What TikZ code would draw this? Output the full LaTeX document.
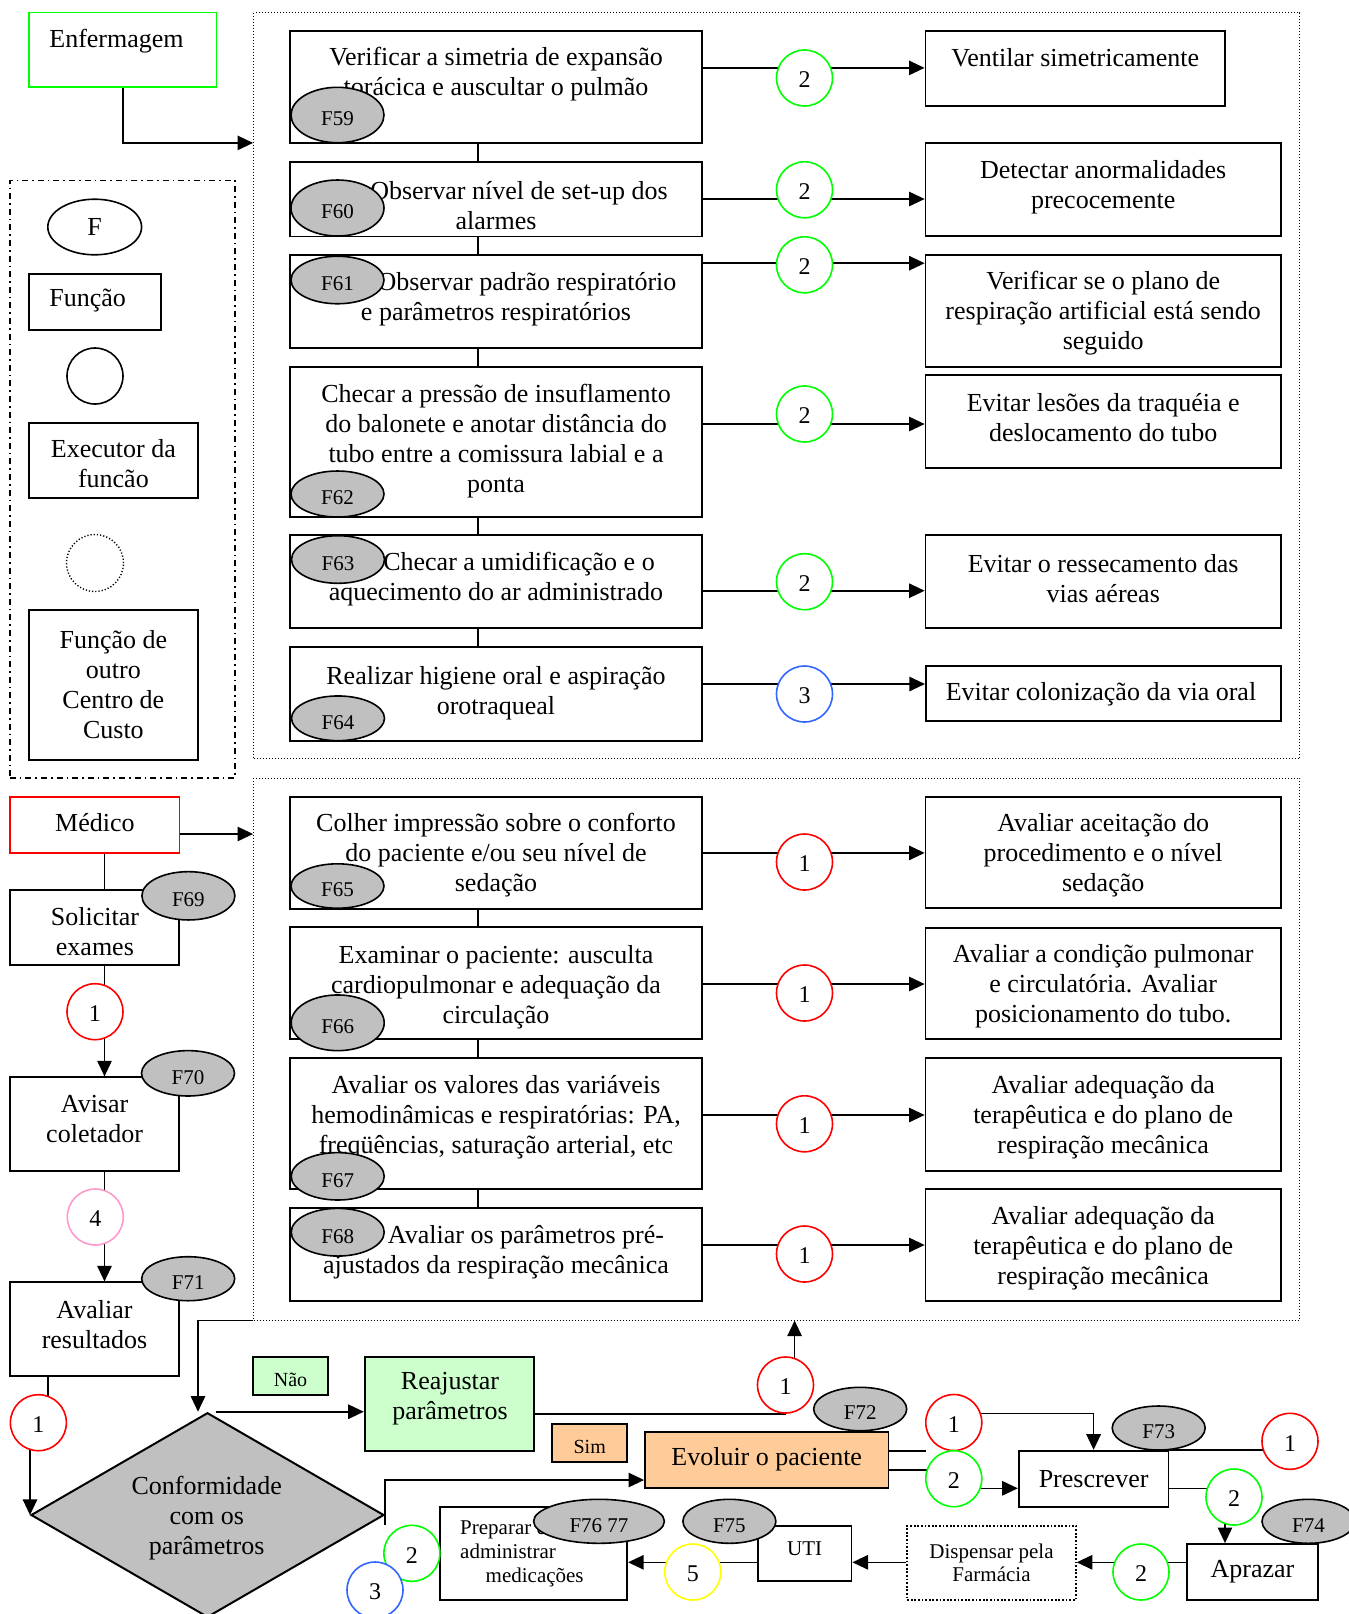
\documentclass[tikz,border=0pt]{standalone}
\usepackage{fontspec}
\setmainfont{Liberation Serif}
\usetikzlibrary{arrows.meta,shapes.geometric}
\definecolor{cgreen}{RGB}{0,255,0}
\definecolor{cred}{RGB}{255,0,0}
\definecolor{cblue}{RGB}{51,102,255}
\definecolor{cpink}{RGB}{255,153,204}
\definecolor{cyellow}{RGB}{255,255,0}
\definecolor{cgray}{RGB}{192,192,192}
\definecolor{clgreen}{RGB}{204,255,204}
\definecolor{corange}{RGB}{255,204,153}
\newcommand\fmain{\fontsize{13}{15}\selectfont}
\newcommand\flab{\fontsize{10.5}{12}\selectfont}
\newcommand\fnum{\fontsize{12}{14}\selectfont}
\newcommand\fsml{\fontsize{10.5}{11.85}\selectfont}
% tag and digit text sit a little below the centre of their shapes
\newcommand\ftag[1]{\raisebox{-2pt}[\height][\depth]{#1}}
\newcommand\ndig[1]{\raisebox{-1pt}[\height][\depth]{#1}}
\pgfdeclarelayer{bg}
\pgfsetlayers{bg,main}

\begin{document}
\begin{tikzpicture}[x=0.5pt,y=-0.5pt,
  bx/.style={draw, line width=0.9pt, fill=white, inner sep=0pt},
  txt/.style={align=center, font=\fmain, inner sep=0pt},
  mtxt/.style={txt, yshift=-1pt},
  fell/.style={ellipse, draw, fill=cgray, line width=0.8pt, inner sep=0pt, minimum width=46.5pt, font=\flab},
  num/.style={circle, draw, fill=white, line width=0.8pt, minimum size=28pt, inner sep=0pt, font=\fnum},
  link/.style={line width=0.8pt},
  arr/.style={line width=0.8pt, -{Triangle[length=7.8pt,width=7.2pt]}},
  zone/.style={draw, line width=0.5pt, dash pattern=on 0.5pt off 1pt, inner sep=0pt},
  mainbox/.style={bx, minimum width=206pt},
  rbox/.style={bx, minimum width=177.65pt},
  lbox/.style={bx, minimum width=84.4pt}]

\useasboundingbox (0,0) rectangle (1349,1614);
\begin{pgfonlayer}{bg}
  \fill[white] (0,0) rectangle (1349,1614);
\end{pgfonlayer}

% dotted group frames
\node[zone, minimum width=523pt, minimum height=373pt] (frameA) at (776.6,385.5) {};
\node[zone, minimum width=523pt, minimum height=271pt] (frameB) at (776.6,1049) {};

% executors
\node[bx, draw=cgreen, minimum width=93.75pt, minimum height=37.15pt] (enf) at (122.75,49.65) {};
\node[txt, anchor=base west] (tenf) at (49,47.5) {Enfermagem};

% legend
\node[draw, line width=0.8pt, dash pattern=on 3pt off 2pt on 0.8pt off 2pt, minimum width=112.6pt, minimum height=298.8pt, inner sep=0pt] (leg) at (122.4,479.2) {};
\node[ellipse, draw, line width=0.8pt, minimum width=46.9pt, minimum height=27.8pt, inner sep=0pt, font=\fmain] (legF) at (94.7,227) {F};
\node[bx, minimum width=65.85pt, minimum height=27.8pt] (legfun) at (94.85,301.8) {};
\node[txt, anchor=west] (tlegfun) at (49,300) {Função};
\node[num] (legexe) at (95,376) {};
\node[lbox, minimum height=37.5pt] (legexb) at (113.4,460.5) {};
\node[txt] (tlegexb) at (113.4,464) {Executor da\\funcão};
\node[circle, draw, line width=0.7pt, dash pattern=on 0.6pt off 1pt, minimum size=28.5pt, inner sep=0pt] (legcc) at (95,563) {};
\node[lbox, txt, minimum height=75pt] (legout) at (113.4,685) {Função de\\outro\\Centro de\\Custo};

% main column of functions
\node[mainbox, minimum height=56pt] (b59) at (496,87) {};
\node[mtxt] (t59) at (496,72.2) {Verificar a simetria de expansão\\torácica e auscultar o pulmão};
\node[mainbox, minimum height=37.3pt] (b60) at (496,199.1) {};
\node[mtxt] (t60) at (496,203.8) {\hspace*{23pt}Observar nível de set-up dos\\alarmes};
\node[mainbox, minimum height=46.5pt] (b61) at (496,301.5) {};
\node[mtxt] (t61) at (496,297.3) {\hspace*{31pt}Observar padrão respiratório\\e parâmetros respiratórios};
\node[mainbox, minimum height=75pt] (b62) at (496,441.8) {};
\node[mtxt] (t62) at (496,439) {Checar a pressão de insuflamento\\do balonete e anotar distância do\\tubo entre a comissura labial e a\\ponta};
\node[mainbox, minimum height=46.65pt] (b63) at (496,581.7) {};
\node[mtxt] (t63) at (496,577.5) {\hspace*{23pt}Checar a umidificação e o\\aquecimento do ar administrado};
\node[mainbox, minimum height=46.7pt] (b64) at (496,694) {};
\node[mtxt] (t64) at (496,690.8) {Realizar higiene oral e aspiração\\orotraqueal};
\node[mainbox, minimum height=56.15pt] (b65) at (496,852.8) {};
\node[mtxt] (t65) at (496,853.3) {Colher impressão sobre o conforto\\do paciente e/ou seu nível de\\sedação};
\node[mainbox, minimum height=56pt] (b66) at (496,983.3) {};
\node[mtxt] (t66) at (496,985) {Examinar o paciente: ausculta\\cardiopulmonar e adequação da\\circulação};
\node[mainbox, minimum height=65.35pt] (b67) at (496,1123.7) {};
\node[mtxt] (t67) at (496,1115.3) {Avaliar os valores das variáveis\\hemodinâmicas e respiratórias: PA,\\freqüências, saturação arterial, etc};
\node[mainbox, minimum height=46.65pt] (b68) at (496,1254.4) {};
\node[mtxt] (t68) at (496,1250) {\hspace*{30pt}Avaliar os parâmetros pré-\\ajustados da respiração mecânica};

% purposes
\node[bx, minimum width=149.75pt, minimum height=37.5pt] (r59) at (1075.25,68.5) {};
\node[txt] (s59) at (1075.3,58) {Ventilar simetricamente};
\node[rbox, minimum height=46.75pt] (r60) at (1103.2,189.6) {};
\node[mtxt] (s60) at (1103.2,184.8) {Detectar anormalidades\\precocemente};
\node[rbox, minimum height=55.9pt] (r61) at (1103.2,310.9) {};
\node[mtxt] (s61) at (1103.2,311.5) {Verificar se o plano de\\respiração artificial está sendo\\seguido};
\node[rbox, minimum height=46.45pt] (r62) at (1103.2,421.5) {};
\node[mtxt] (s62) at (1103.2,415.9) {Evitar lesões da traquéia e\\deslocamento do tubo};
\node[rbox, minimum height=46.35pt] (r63) at (1103.2,581.4) {};
\node[mtxt] (s63) at (1103.2,576.9) {Evitar o ressecamento das\\vias aéreas};
\node[rbox, minimum height=27.75pt] (r64) at (1103.5,693.6) {};
\node[mtxt] (s64) at (1101,692.5) {Evitar colonização da via oral};
\node[rbox, minimum height=55.7pt] (r65) at (1103.2,852.5) {};
\node[mtxt] (s65) at (1103.2,853.7) {Avaliar aceitação do\\procedimento e o nível\\sedação};
\node[rbox, minimum height=55.7pt] (r66) at (1103.2,983.6) {};
\node[mtxt] (s66) at (1103.2,984.6) {Avaliar a condição pulmonar\\e circulatória. Avaliar\\posicionamento do tubo.};
\node[rbox, minimum height=56.25pt] (r67) at (1103.2,1114.5) {};
\node[mtxt] (s67) at (1103.2,1115.4) {Avaliar adequação da\\terapêutica e do plano de\\respiração mecânica};
\node[rbox, minimum height=56.2pt] (r68) at (1103.2,1244.8) {};
\node[mtxt] (s68) at (1103.2,1246.1) {Avaliar adequação da\\terapêutica e do plano de\\respiração mecânica};

% medical column
\node[bx, draw=cred, minimum width=84.85pt, minimum height=28.3pt] (med) at (94.65,825) {};
\node[txt] (tmed) at (94.9,822.5) {Médico};
\node[lbox, minimum height=37.5pt] (sol) at (94.2,927.5) {};
\node[txt] (tsol) at (94.9,931.7) {Solicitar\\exames};
\node[lbox, minimum height=46.7pt] (avi) at (94.55,1124) {};
\node[txt] (tavi) at (94.6,1118.7) {Avisar\\coletador};
\node[lbox, minimum height=46.85pt] (ava) at (94.2,1329.2) {};
\node[txt] (tava) at (94.5,1324.3) {Avaliar\\resultados};

% decision and follow-up
\node[diamond, draw, fill=cgray, line width=1pt, aspect=1.725, minimum width=176.5pt, minimum height=102.3pt, inner sep=0pt] (dia) at (207.5,1515) {};
\node[txt] (tdia) at (206.7,1518.5) {Conformidade\\com os\\parâmetros};
\node[bx, fill=clgreen, minimum width=37.5pt, minimum height=19pt] (nao) at (290.5,1376) {};
\node[font=\fontsize{10}{12}\selectfont, inner sep=0pt] (tnao) at (290.5,1380) {Não};
\node[bx, fill=clgreen, minimum width=84.65pt, minimum height=47pt] (rea) at (449.35,1404) {};
\node[txt] (trea) at (450,1398.7) {Reajustar\\parâmetros};
\node[bx, fill=corange, minimum width=37.5pt, minimum height=19.15pt] (sim) at (589.7,1443.2) {};
\node[font=\fontsize{10}{12}\selectfont, inner sep=0pt] (tsim) at (589.7,1446.5) {Sim};
\node[bx, fill=corange, txt, minimum width=121.7pt, minimum height=28pt] (evo) at (766.7,1459.7) {Evoluir o paciente};
\node[bx, txt, minimum width=74.9pt, minimum height=28pt] (pres) at (1093.6,1478.7) {Prescrever};
\node[bx, txt, minimum width=65.3pt, minimum height=28pt] (apr) at (1252.5,1572) {Aprazar};
\node[bx, line width=0.9pt, dash pattern=on 0.9pt off 0.9pt, align=center, font=\fontsize{10.5}{11.2}\selectfont, minimum width=84.3pt, minimum height=37.15pt] (dis) at (991.5,1562.85) {Dispensar pela\\Farmácia};
\node[bx, minimum width=46.8pt, minimum height=27.65pt] (uti) at (804.7,1553.35) {};
\node[font=\fsml, inner sep=0pt] (tuti) at (804.7,1548.3) {UTI};
\node[bx, minimum width=93.75pt, minimum height=46.65pt] (prep) at (533.45,1553.35) {};
\node[align=left, font=\fsml, inner sep=0pt, anchor=west] (tprep) at (459.8,1553.65) {Preparar e\\administrar\\\hspace*{12.75pt}medicações};

% numbered circles
\foreach \i/\cy/\col/\n in {59/78/cgreen/2, 60/189.8/cgreen/2, 61/264.8/cgreen/2, 62/414/cgreen/2, 63/581.7/cgreen/2, 64/694/cblue/3, 65/862/cred/1, 66/993/cred/1, 67/1123.8/cred/1, 68/1254/cred/1}
  \node[num, draw=\col] (c\i) at (804.5,\cy) {\ndig{\n}};
\node[num, draw=cred] (l1) at (95,1011.7) {\ndig{1}};
\node[num, draw=cpink] (l4) at (95.3,1217) {\ndig{4}};
\node[num, draw=cred] (lC) at (38.4,1422.7) {\ndig{1}};
\node[num, draw=cred] (rR) at (785.5,1385) {\ndig{1}};
\node[num, draw=cred] (r1b) at (953.8,1422.5) {\ndig{1}};
\node[num, draw=cgreen] (g2b) at (953.8,1478.7) {\ndig{2}};
\node[num, draw=cred] (r1c) at (1290,1441.3) {\ndig{1}};
\node[num, draw=cgreen] (g2c) at (1234,1497) {\ndig{2}};
\node[num, draw=cgreen] (g2d) at (1141,1572) {\ndig{2}};
\node[num, draw=cyellow] (y5) at (692.8,1572) {\ndig{5}};
\node[num, draw=cgreen] (g2e) at (411.9,1553.3) {\ndig{2}};
\node[num, draw=cblue] (b3e) at (375,1590) {\ndig{3}};

% function tags
\node[fell, minimum height=27.7pt] (e59) at (337.5,115) {\ftag{F59}};
\node[fell, minimum height=28pt] (e60) at (337.5,208) {\ftag{F60}};
\node[fell, minimum height=23.75pt] (e61) at (337.5,280) {\ftag{F61}};
\node[fell, minimum height=23pt] (e62) at (337.5,494) {\ftag{F62}};
\node[fell, minimum height=23.8pt] (e63) at (338,559.5) {\ftag{F63}};
\node[fell, minimum height=22.35pt] (e64) at (338,718.3) {\ftag{F64}};
\node[fell, minimum height=22.2pt] (e65) at (337.5,886) {\ftag{F65}};
\node[fell, minimum height=27.85pt] (e66) at (337.7,1022.8) {\ftag{F66}};
\node[fell, minimum height=23.7pt] (e67) at (337.7,1176.3) {\ftag{F67}};
\node[fell, minimum height=23.85pt] (e68) at (337.7,1232.2) {\ftag{F68}};
\node[fell, minimum height=24.15pt] (e69) at (188.4,895.8) {\ftag{F69}};
\node[fell, minimum height=22.7pt] (e70) at (188,1073.3) {\ftag{F70}};
\node[fell, minimum height=22pt] (e71) at (188.2,1278.7) {\ftag{F71}};
\node[fell, minimum height=21.7pt] (e72) at (860.2,1409) {\ftag{F72}};
\node[fell, minimum height=22pt] (e73) at (1158.7,1428) {\ftag{F73}};
\node[fell, minimum height=22pt] (e74) at (1308.5,1521.3) {\ftag{F74}};
\node[fell, minimum height=22pt] (e75) at (729.4,1521.3) {\ftag{F75}};
\node[fell, minimum width=65.4pt, minimum height=22pt] (e76) at (599,1521.3) {\ftag{F76 77}};

% connectors, kept beneath the nodes
\begin{pgfonlayer}{bg}
  \foreach \a/\b in {b59/b60,b60/b61,b61/b62,b62/b63,b63/b64,b65/b66,b66/b67,b67/b68}
    \draw[link] ([xshift=-9.15pt]\a.south) -- ([xshift=-9.15pt]\b.north);
  \foreach \i/\ly in {59/67.9, 60/199, 61/263.2, 62/424, 63/590.7, 64/684, 65/852.9, 66/984, 67/1115, 68/1245}
    \draw[arr] (b\i.east |- 0,\ly) -- (r\i.west |- 0,\ly);

  \draw[arr] (enf.south) |- (frameA.west |- 0,142.9);
  \draw[arr] (med.east |- 0,834) -- (frameB.west |- 0,834);
  \draw[link] (med.south -| 104.5,0) -- (sol.north -| 104.5,0);
  \draw[arr] (sol.south -| 104.5,0) -- (avi.north -| 104.5,0);
  \draw[arr] (avi.south -| 104.5,0) -- (ava.north -| 104.5,0);
  \draw[link] (ava.south -| 47.8,0) -- (lC.center -| 47.8,0);
  \draw[arr] (lC.center -| dia.west) -- (dia.west);

  \coordinate (dl) at ([xshift=-4.75pt]dia.north);
  \coordinate (dr) at ([xshift=4.05pt]dia.north);
  \draw[arr] (frameB.south west) -| (dl);
  \draw[arr] (dr) -- (dr -| rea.west);
  \draw[link] (rea.east |- rR.south) -- (rR.south);
  \draw[arr] (rR.center -| 794.6,0) -- (frameB.south -| 794.6,0);
  \draw[arr] ([yshift=-5pt]dia.east) |- (evo.west |- 0,1480);

  \coordinate (ev1) at (925.5,1450.7);
  \draw[link] (evo.east |- ev1) -- (ev1);
  \draw[link] (evo.east |- 0,1470) -- (g2b.center |- 0,1470);
  \draw[arr] (g2b.center |- 0,1488.3) -- (pres.west |- 0,1488.3);
  \draw[arr] (r1b.center |- 0,1413.3) -| (pres.north);
  \draw[link] (pres.north east) -- (r1c.center |- pres.north east);
  \draw[arr] (pres.east |- 0,1488.3) -| (apr.north -| 1225,0);
  \draw[arr] (apr.west |- 0,1562.3) -- (dis.east |- 0,1562.3);
  \draw[arr] (dis.west |- 0,1562.3) -- (uti.east |- 0,1562.3);
  \draw[arr] (uti.west |- 0,1562.3) -- (prep.east |- 0,1562.3);
\end{pgfonlayer}
\end{tikzpicture}
\end{document}
